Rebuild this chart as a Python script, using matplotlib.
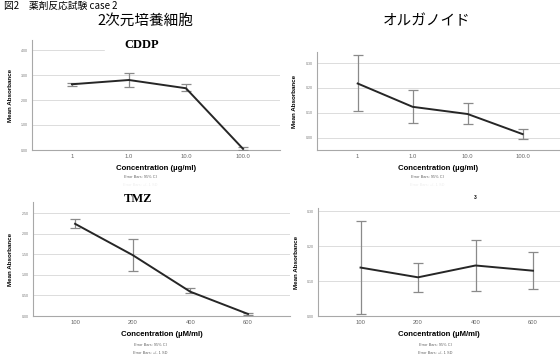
import numpy as np
import matplotlib.pyplot as plt
from matplotlib.patches import Rectangle

W, H = 560, 359

# CDDP, 2D culture
cddp_conc = ["1", "1.0", "10.0", "100.0"]
cddp_2d_mean = [2.63, 2.80, 2.47, 0.05]
cddp_2d_lo = [2.56, 2.51, 2.37, 0.00]
cddp_2d_hi = [2.69, 3.09, 2.63, 0.12]

# CDDP, organoid
cddp_org_mean = [0.218, 0.124, 0.095, 0.014]
cddp_org_lo = [0.108, 0.060, 0.055, -0.006]
cddp_org_hi = [0.331, 0.191, 0.138, 0.035]

# TMZ, 2D culture
tmz_conc = ["100", "200", "400", "600"]
tmz_2d_mean = [2.24, 1.48, 0.59, 0.05]
tmz_2d_lo = [2.15, 1.10, 0.55, 0.03]
tmz_2d_hi = [2.36, 1.87, 0.69, 0.08]

# TMZ, organoid
tmz_org_mean = [0.139, 0.111, 0.145, 0.130]
tmz_org_lo = [0.005, 0.070, 0.073, 0.077]
tmz_org_hi = [0.274, 0.153, 0.218, 0.185]

sans = "Liberation Sans"
jp = ["Noto Sans CJK JP", "DejaVu Sans"]


def px_axes(fig, x0, x1, ytop, ybot):
    return fig.add_axes([x0 / W, 1 - ybot / H, (x1 - x0) / W, (ybot - ytop) / H])


def panel(ax, cats, mean, lo, hi, ylim, yticks, xlim, xlabel):
    x = np.arange(len(cats))
    mean = np.array(mean)
    yerr = [mean - np.array(lo), np.array(hi) - mean]
    ax.errorbar(x, mean, yerr=yerr, fmt="none", ecolor="#8a8a8a",
                elinewidth=0.9, capsize=3.3, capthick=0.9, zorder=3)
    ax.plot(x, mean, color="#262626", lw=1.4, zorder=4)
    ax.set_xlim(*xlim)
    ax.set_ylim(*ylim)
    ax.set_yticks(yticks)
    ax.set_yticklabels(["{:.2f}".format(v) for v in yticks], fontsize=2.6,
                       color="#777777", family=sans)
    ax.set_xticks(x)
    ax.set_xticklabels(cats, fontsize=4.2, color="#666666", family=sans)
    ax.tick_params(length=0, pad=3)
    ax.grid(axis="y", color="#dcdcdc", lw=0.7)
    ax.set_axisbelow(True)
    for s in ["top", "right"]:
        ax.spines[s].set_visible(False)
    for s in ["left", "bottom"]:
        ax.spines[s].set_color("#a8a8a8")
        ax.spines[s].set_linewidth(0.8)
    ax.set_ylabel("Mean Absorbance", fontsize=4.5, fontweight="bold",
                  family=sans, labelpad=6)
    ax.set_xlabel(xlabel, fontsize=5.6, fontweight="bold", family=sans,
                  labelpad=4)
    return ax


fig = plt.figure(figsize=(W / 100, H / 100), dpi=100)

ug = "Concentration (\u00b5g/ml)"
um = "Concentration (\u00b5M/ml)"

ax1 = px_axes(fig, 32, 280, 40, 150)
panel(ax1, cddp_conc, cddp_2d_mean, cddp_2d_lo, cddp_2d_hi, (0, 4.4),
      [0, 1, 2, 3, 4], (-0.70, 3.65), ug)

ax2 = px_axes(fig, 317, 560, 52, 150)
panel(ax2, cddp_conc, cddp_org_mean, cddp_org_lo, cddp_org_hi, (-0.05, 0.345),
      [0, 0.1, 0.2, 0.3], (-0.74, 3.68), ug)

ax3 = px_axes(fig, 33, 290, 202, 316)
panel(ax3, tmz_conc, tmz_2d_mean, tmz_2d_lo, tmz_2d_hi, (0, 2.77),
      [0, 0.5, 1, 1.5, 2, 2.5], (-0.73, 3.73), um)

ax4 = px_axes(fig, 318, 560, 208, 316)
panel(ax4, tmz_conc, tmz_org_mean, tmz_org_lo, tmz_org_hi, (0, 0.31),
      [0, 0.1, 0.2, 0.3], (-0.74, 3.47), um)

# white strip that hides part of the top gridline behind the CDDP heading
fig.patches.append(Rectangle((105 / W, 1 - 57 / H), 180 / W, 20 / H,
                             transform=fig.transFigure, color="white", zorder=5))


def ftext(x, y, s, **kw):
    fig.text(x / W, 1 - y / H, s, ha="center", va="center", zorder=6, **kw)


# figure headings
fig.text(4 / W, 1 - 0.5 / H, "\u56f32\u3000\u85ac\u5264\u53cd\u5fdc\u8a66\u9a13 case 2",
         ha="left", va="top", fontsize=7, family=jp, zorder=6)
ftext(145, 21, "2\u6b21\u5143\u57f9\u990a\u7d30\u80de", fontsize=10.5, family=jp)
ftext(427, 21, "\u30aa\u30eb\u30ac\u30ce\u30a4\u30c9", fontsize=10.5, family=jp)
ftext(142, 45, "CDDP", fontsize=9, family="Liberation Serif", fontweight="bold")
ftext(138, 199, "TMZ", fontsize=9, family="Liberation Serif", fontweight="bold")
ftext(475, 197, "3", fontsize=3.5, family=sans, fontweight="bold")

# error bar notes under each x label
note = dict(fontsize=2.8, family=sans, color="#666666")
faint = dict(fontsize=2.8, family=sans, color="#eeeeee")
ftext(140, 177, "Error Bars: 95% CI", **note)
ftext(140, 185, "Error Bars: +/- 1 SD", **faint)
ftext(427, 177, "Error Bars: 95% CI", **note)
ftext(427, 185, "Error Bars: +/- 1 SD", **faint)
ftext(150, 345, "Error Bars: 95% CI", **note)
ftext(150, 353, "Error Bars: +/- 1 SD", **note)
ftext(435, 345, "Error Bars: 95% CI", **note)
ftext(435, 353, "Error Bars: +/- 1 SD", **note)

fig.savefig("out.png", dpi=100)
